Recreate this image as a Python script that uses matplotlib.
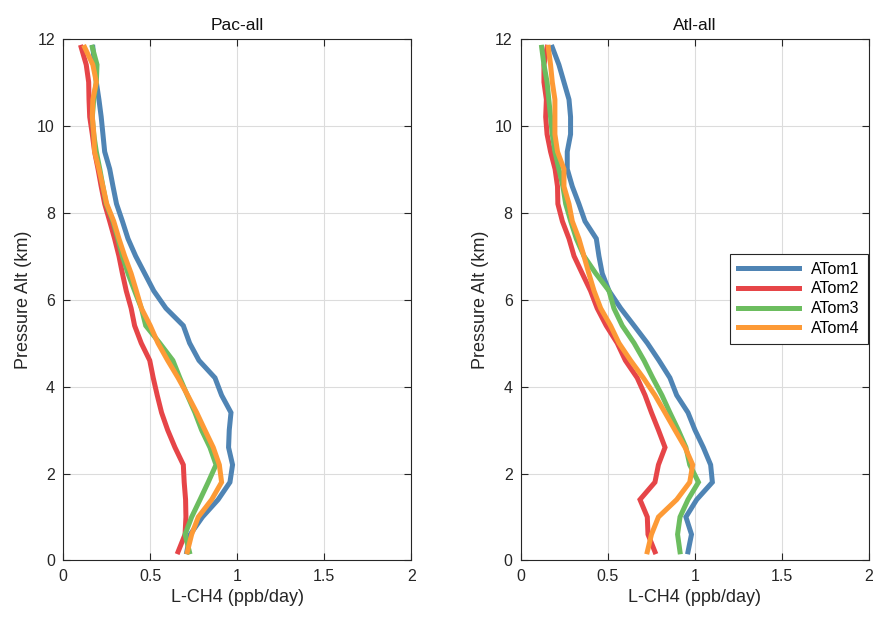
import matplotlib
matplotlib.use('Agg')
import matplotlib.pyplot as plt

plt.rcParams['font.family'] = ['Liberation Sans', 'DejaVu Sans']

# altitude bins (km), 0.4 km spacing
alt = [0.2, 0.6, 1.0, 1.4, 1.8, 2.2, 2.6, 3.0, 3.4, 3.8,
       4.2, 4.6, 5.0, 5.4, 5.8, 6.2, 6.6, 7.0, 7.4, 7.8,
       8.2, 8.6, 9.0, 9.4, 9.8, 10.2, 10.6, 11.0, 11.4, 11.8]

# Pacific loss rates (ppb/day)
pac_atom1 = [0.71, 0.73, 0.80, 0.89, 0.958, 0.973, 0.95, 0.954, 0.964, 0.91,
             0.872, 0.78, 0.726, 0.69, 0.59, 0.52, 0.468, 0.416, 0.372, 0.34,
             0.306, 0.286, 0.267, 0.238, 0.228, 0.218, 0.205, 0.19, 0.18, 0.17]
pac_atom2 = [0.66, 0.70, 0.705, 0.703, 0.695, 0.69, 0.642, 0.60, 0.565, 0.54,
             0.517, 0.497, 0.448, 0.41, 0.39, 0.362, 0.34, 0.32, 0.295, 0.267,
             0.238, 0.218, 0.20, 0.18, 0.167, 0.152, 0.148, 0.146, 0.132, 0.103]
pac_atom3 = [0.725, 0.70, 0.738, 0.786, 0.833, 0.878, 0.843, 0.795, 0.757, 0.713,
             0.67, 0.63, 0.554, 0.474, 0.449, 0.41, 0.372, 0.34, 0.314, 0.286,
             0.247, 0.228, 0.21, 0.19, 0.175, 0.167, 0.175, 0.19, 0.194, 0.167]
pac_atom4 = [0.713, 0.738, 0.776, 0.853, 0.91, 0.897, 0.862, 0.814, 0.767, 0.715,
             0.66, 0.60, 0.544, 0.50, 0.449, 0.42, 0.39, 0.353, 0.32, 0.29,
             0.25, 0.228, 0.205, 0.18, 0.176, 0.167, 0.17, 0.19, 0.17, 0.123]

# Atlantic loss rates (ppb/day)
atl_atom1 = [0.96, 0.98, 0.948, 1.01, 1.10, 1.09, 1.048, 1.0, 0.96, 0.895,
             0.856, 0.793, 0.726, 0.65, 0.573, 0.506, 0.467, 0.448, 0.433, 0.368,
             0.333, 0.295, 0.266, 0.266, 0.285, 0.285, 0.276, 0.247, 0.218, 0.18]
atl_atom2 = [0.77, 0.73, 0.726, 0.684, 0.77, 0.79, 0.828, 0.79, 0.75, 0.713,
             0.668, 0.60, 0.553, 0.49, 0.438, 0.40, 0.352, 0.305, 0.276, 0.238,
             0.212, 0.21, 0.196, 0.17, 0.15, 0.142, 0.146, 0.132, 0.132, 0.15]
atl_atom3 = [0.914, 0.90, 0.914, 0.96, 1.02, 0.97, 0.948, 0.904, 0.856, 0.81,
             0.757, 0.707, 0.65, 0.582, 0.534, 0.506, 0.43, 0.362, 0.318, 0.286,
             0.257, 0.241, 0.218, 0.195, 0.18, 0.17, 0.16, 0.15, 0.132, 0.119]
atl_atom4 = [0.726, 0.75, 0.79, 0.895, 0.97, 0.987, 0.943, 0.885, 0.828, 0.77,
             0.703, 0.63, 0.563, 0.515, 0.458, 0.42, 0.39, 0.362, 0.333, 0.295,
             0.276, 0.247, 0.247, 0.21, 0.195, 0.195, 0.195, 0.18, 0.17, 0.157]

labels = ['ATom1', 'ATom2', 'ATom3', 'ATom4']
colors = ['#4f84b4', '#e64548', '#6cbd5f', '#fd9a36']

panels = [('Pac-all', [pac_atom1, pac_atom2, pac_atom3, pac_atom4]),
          ('Atl-all', [atl_atom1, atl_atom2, atl_atom3, atl_atom4])]

fig = plt.figure(figsize=(8.75, 6.22), dpi=100)
lefts = [0.0723, 0.5954]

for i, (title, series) in enumerate(panels):
    ax = fig.add_axes([lefts[i], 0.0989, 0.3977, 0.839])
    for vals, lab, col in zip(series, labels, colors):
        ax.plot(vals, alt, color=col, lw=3.6, label=lab, solid_joinstyle='miter')
    ax.set_xlim(0, 2)
    ax.set_ylim(0, 12)
    ax.set_xticks([0, 0.5, 1, 1.5, 2])
    ax.set_xticklabels(['0', '0.5', '1', '1.5', '2'])
    ax.set_yticks([0, 2, 4, 6, 8, 10, 12])
    ax.grid(True, color='#dcdcdc', lw=0.8)
    ax.set_axisbelow(True)
    ax.tick_params(direction='in', top=True, right=True, labelsize=11.5,
                   colors='#262626', length=5, pad=6)
    for sp in ax.spines.values():
        sp.set_color('#262626')
        sp.set_linewidth(0.8)
    ax.set_title(title, fontsize=12.5, color='#111111')
    ax.set_xlabel('L-CH4 (ppb/day)', fontsize=13, color='#262626')
    ax.set_ylabel('Pressure Alt (km)', fontsize=13, color='#262626')
    if i == 1:
        leg = ax.legend(loc='upper right', bbox_to_anchor=(0.997, 0.588),
                        borderaxespad=0, fontsize=11.5, handlelength=3.8,
                        fancybox=False, framealpha=1, borderpad=0.5,
                        labelspacing=0.3)
        leg.get_frame().set_edgecolor('#262626')
        leg.get_frame().set_linewidth(0.8)

fig.savefig('out.png', dpi=100)
